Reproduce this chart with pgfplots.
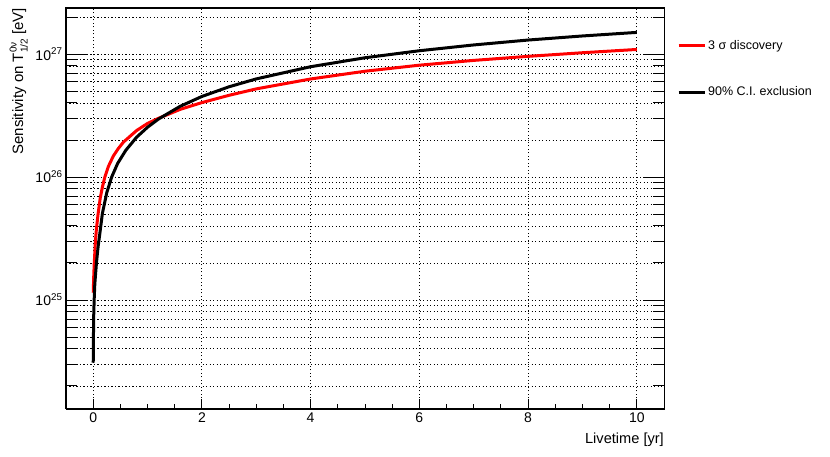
\documentclass[border=0pt]{standalone}
\usepackage{fontspec}
\setmainfont{Liberation Sans}
\usepackage{pgfplots}
\pgfplotsset{compat=1.18}

\begin{document}
\begin{tikzpicture}
\useasboundingbox (-66pt,-47pt) rectangle (764pt,409pt);
% main axis: data, y ticks, grids
\begin{semilogyaxis}[
    scale only axis, width=598pt, height=401pt,
    xmin=-0.5, xmax=10.5, ymin=1.3e24, ymax=2.37e27,
    axis line style={line width=1pt},
    xtick={0,2,4,6,8,10}, xticklabels={},
    xtick style={draw=none},
    ytick={1e25,1e26,1e27},
    yticklabels={10\textsuperscript{25},10\textsuperscript{26},10\textsuperscript{27}},
    minor ytick={2e24,3e24,4e24,5e24,6e24,7e24,8e24,9e24,
                 2e25,3e25,4e25,5e25,6e25,7e25,8e25,9e25,
                 2e26,3e26,4e26,5e26,6e26,7e26,8e26,9e26,2e27},
    major tick length=21pt, minor tick length=11pt,
    tick align=inside, ytick pos=both,
    every tick/.style={black, line width=1pt},
    xmajorgrids, ymajorgrids, yminorgrids,
    major grid style={black, line width=0.9pt, dash pattern=on 1.1pt off 2.4pt},
    minor grid style={black, line width=0.9pt, dash pattern=on 1.1pt off 2.4pt},
    tick label style={font=\fontsize{14}{16}\selectfont},
    ylabel={Sensitivity on T\rlap{\raisebox{6.5pt}{\fontsize{10}{11}\selectfont 0ν}}\raisebox{-4.5pt}{\fontsize{10}{11}\selectfont 1/2} [eV]},
    ylabel style={font=\fontsize{15}{17}\selectfont, at={(axis description cs:-0.0719,1)}, anchor=base east, inner sep=0pt},
    legend cell align=left,
    legend image code/.code={\draw[#1] (0pt,0pt) -- (26pt,0pt);},
    legend style={draw=none, fill=none, at={(axis description cs:1,1)}, anchor=north west,
        xshift=10pt, yshift=-28pt, row sep=32pt, font=\fontsize{12.5}{14}\selectfont},
]
\addplot[red, line width=3pt] coordinates {
    (0.001,1.15e25) (0.01,1.55e25) (0.02,2.0e25) (0.04,2.95e25) (0.06,3.8e25)
    (0.09,5.0e25) (0.13,6.76e25) (0.17,8.3e25) (0.215,1.0e26) (0.28,1.22e26)
    (0.37,1.48e26) (0.46,1.70e26) (0.56,1.93e26) (0.8,2.39e26) (1.0,2.73e26)
    (1.2,3.0e26) (1.6,3.55e26) (2,4.03e26) (2.5,4.62e26) (3,5.21e26)
    (4,6.27e26) (5,7.25e26) (6,8.12e26) (7,8.88e26) (8,9.58e26)
    (9,1.025e27) (10,1.09e27)
};
\addlegendentry{3 σ discovery}
\addplot[black, line width=3pt] coordinates {
    (0.001,3.1e24) (0.008,7.0e24) (0.018,1.0e25) (0.03,1.35e25) (0.06,2.0e25)
    (0.09,2.7e25) (0.12,3.4e25) (0.17,5.08e25) (0.25,7.46e25) (0.34,1.0e26)
    (0.45,1.29e26) (0.6,1.65e26) (0.8,2.11e26) (1.0,2.54e26) (1.2,2.96e26)
    (1.6,3.76e26) (2,4.52e26) (2.5,5.42e26) (3,6.28e26) (4,7.89e26)
    (5,9.33e26) (6,1.064e27) (7,1.186e27) (8,1.30e27) (9,1.403e27) (10,1.50e27)
};
\addlegendentry{90\% C.I. exclusion}
\end{semilogyaxis}
% overlay axis: x ticks and x label
\begin{axis}[
    scale only axis, width=598pt, height=401pt,
    xmin=-0.5, xmax=10.5, ymin=0, ymax=1,
    axis line style={line width=1pt},
    xtick={0,2,4,6,8,10}, minor x tick num=3,
    xtick pos=lower, tick align=inside,
    major tick length=10pt, minor tick length=5pt,
    every tick/.style={black, line width=1pt},
    ytick=\empty,
    tick label style={font=\fontsize{14}{16}\selectfont},
    xticklabel={\pgfmathprintnumber[assume math mode=true]{\tick}},
    xlabel={Livetime [yr]},
    xlabel style={font=\fontsize{14.6}{16}\selectfont, at={(axis description cs:1,-0.0848)}, anchor=base east, inner sep=0pt},
]
\end{axis}
\end{tikzpicture}
\end{document}
